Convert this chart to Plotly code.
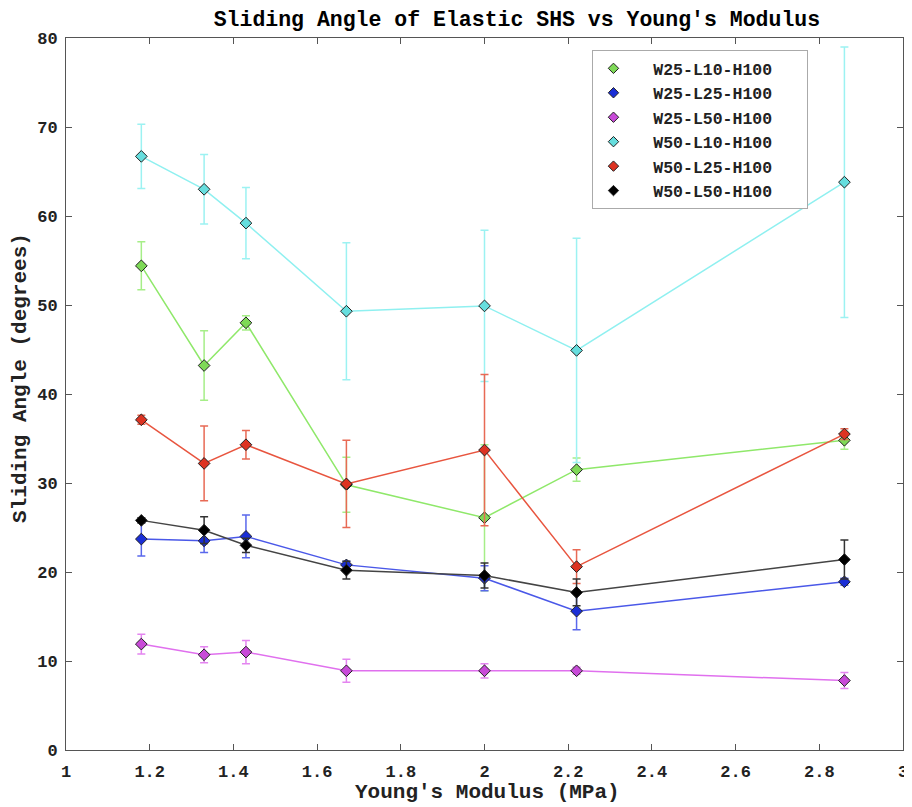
import plotly.graph_objects as go

modulus = [1.18, 1.33, 1.43, 1.67, 2.0, 2.22, 2.86]

names = ["W25-L10-H100", "W25-L25-H100", "W25-L50-H100",
         "W50-L10-H100", "W50-L25-H100", "W50-L50-H100"]

w25_l10 = [54.4, 43.2, 48.0, 29.8, 26.1, 31.5, 34.8]
w25_l10_err = [2.7, 3.9, 0.8, 3.1, 8.2, 1.3, 1.0]

w25_l25 = [23.7, 23.5, 24.0, 20.8, 19.3, 15.6, 18.9]
w25_l25_err = [1.9, 1.3, 2.4, 0.4, 1.4, 2.1, 0.4]

w25_l50 = [11.9, 10.7, 11.0, 8.9, 8.9, 8.9, 7.8]
w25_l50_err = [1.1, 0.9, 1.3, 1.3, 0.8, 0.4, 0.9]

w50_l10 = [66.7, 63.0, 59.2, 49.3, 49.9, 44.9, 63.8]
w50_l10_err = [3.6, 3.9, 4.0, 7.7, 8.5, 12.6, 15.2]

w50_l25 = [37.1, 32.2, 34.3, 29.9, 33.7, 20.6, 35.5]
w50_l25_err = [0.5, 4.2, 1.6, 4.9, 8.5, 1.9, 0.6]

w50_l50 = [25.8, 24.7, 23.0, 20.2, 19.6, 17.7, 21.4]
w50_l50_err = [0.3, 1.5, 0.8, 1.0, 1.4, 1.5, 2.2]

x_ticks = [1, 1.2, 1.4, 1.6, 1.8, 2, 2.2, 2.4, 2.6, 2.8, 3]
x_tick_text = ["1", "1.2", "1.4", "1.6", "1.8", "2", "2.2", "2.4", "2.6", "2.8", "3"]
y_ticks = [0, 10, 20, 30, 40, 50, 60, 70, 80]

values = [w25_l10, w25_l25, w25_l50, w50_l10, w50_l25, w50_l50]
errors = [w25_l10_err, w25_l25_err, w25_l50_err, w50_l10_err, w50_l25_err, w50_l50_err]

line_colors = ["#8fe86a", "#4a58e8", "#e070ee", "#8ff0f0", "#e8553f", "#444444"]
err_colors = ["#a6ee88", "#5a68ec", "#e485f0", "#9cf2f2", "#e86a55", "#333333"]
fill_colors = ["#7ed957", "#1a2ed6", "#c84ad8", "#66dede", "#dd3322", "#000000"]

fig = go.Figure()

for name, v, e, lc, ec, fc in zip(names, values, errors, line_colors, err_colors, fill_colors):
    fig.add_trace(go.Scatter(
        x=modulus, y=v, mode="lines+markers", name=name, showlegend=False,
        line=dict(color=lc, width=1.5),
        marker=dict(symbol="diamond", size=9, color=fc,
                    line=dict(color="#222222", width=1)),
        error_y=dict(type="data", array=e, visible=True, color=ec,
                     thickness=1.5, width=4),
    ))

for name, fc in zip(names, fill_colors):
    fig.add_trace(go.Scatter(
        x=[None], y=[None], mode="markers",
        name="\u00a0\u00a0<b>" + name + "</b>\u00a0\u00a0\u00a0",
        showlegend=True,
        marker=dict(symbol="diamond", size=8, color=fc,
                    line=dict(color="#222222", width=1)),
    ))

mono = "Liberation Mono, Courier New, monospace"

fig.update_layout(
    width=912, height=807,
    paper_bgcolor="white", plot_bgcolor="white",
    margin=dict(l=58, r=12, t=30, b=65),
    title=dict(text="<b>Sliding Angle of Elastic SHS vs Young's Modulus</b>",
               x=0.558, xanchor="center", y=0.9876, yanchor="middle",
               font=dict(family=mono, size=21.5, color="black")),
    xaxis=dict(range=[1, 3], showgrid=False, zeroline=False,
               showline=True, linecolor="#555555", linewidth=1, mirror="ticks",
               ticks="inside", ticklen=6, tickcolor="#555555",
               tickvals=x_ticks, ticktext=["<b>%s</b>" % t for t in x_tick_text],
               ticklabelstandoff=6,
               tickfont=dict(family=mono, size=17, color="#222222")),
    yaxis=dict(range=[0, 80], showgrid=False, zeroline=False,
               showline=True, linecolor="#555555", linewidth=1, mirror="ticks",
               ticks="inside", ticklen=6, tickcolor="#555555",
               tickvals=y_ticks, ticktext=["<b>%d</b>" % t for t in y_ticks],
               ticklabelstandoff=4,
               tickfont=dict(family=mono, size=17, color="#222222")),
    legend=dict(x=0.629, y=0.983, xanchor="left", yanchor="top",
                bgcolor="white", bordercolor="#aaaaaa", borderwidth=1,
                font=dict(family=mono, size=16.5, color="#222222"),
                tracegroupgap=0),
    annotations=[
        dict(text="<b>Young's Modulus (MPa)</b>", xref="paper", yref="paper",
             x=0.5036, y=-0.059, xanchor="center", yanchor="middle", showarrow=False,
             font=dict(family=mono, size=21, color="#222222")),
        dict(text="<b>Sliding Angle (degrees)</b>", xref="paper", yref="paper",
             x=-0.0546, y=0.523, xanchor="center", yanchor="middle", showarrow=False,
             textangle=-90, font=dict(family=mono, size=21, color="#222222")),
    ],
)

fig.write_html("out.html")
